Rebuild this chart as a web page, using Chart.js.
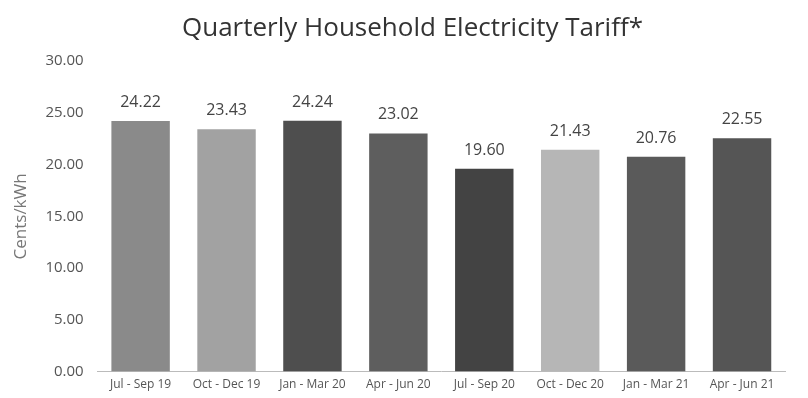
<!DOCTYPE html>
<html>
<head>
<meta charset="utf-8">
<script src="https://cdn.jsdelivr.net/npm/chart.js@4/dist/chart.umd.min.js"></script>
<style>
  html, body { margin: 0; padding: 0; background: #fff; }
  #wrap { width: 808px; height: 398px; }
</style>
</head>
<body>
<div id="wrap"><canvas id="tariffChart" width="808" height="398"></canvas></div>
<script>
// Chart data
const quarters = ['Jul - Sep 19', 'Oct - Dec 19', 'Jan - Mar 20', 'Apr - Jun 20',
                  'Jul - Sep 20', 'Oct - Dec 20', 'Jan - Mar 21', 'Apr - Jun 21'];
const tariff = [24.22, 23.43, 24.24, 23.02, 19.60, 21.43, 20.76, 22.55];
const barColors = ['#8a8a8a', '#a2a2a2', '#4e4e4e', '#5e5e5e', '#434343', '#b6b6b6', '#5a5a5a', '#555555'];

// draws the value above each bar
const valueLabels = {
  id: 'valueLabels',
  afterDatasetsDraw(chart) {
    const ctx = chart.ctx;
    const meta = chart.getDatasetMeta(0);
    ctx.save();
    ctx.font = '16px "Open Sans", sans-serif';
    ctx.fillStyle = '#444';
    ctx.textAlign = 'center';
    ctx.textBaseline = 'alphabetic';
    meta.data.forEach((bar, i) => {
      ctx.fillText(tariff[i].toFixed(2), bar.x, bar.y - 14);
    });
    ctx.restore();
  }
};

// the title in the original sits a bit right of centre
const titleNudge = {
  id: 'titleNudge',
  afterLayout(chart) {
    if (chart.titleBlock) {
      chart.titleBlock.left += 20;
      chart.titleBlock.right += 20;
    }
  }
};

const ctx = document.getElementById('tariffChart').getContext('2d');
const tariffChart = new Chart(ctx, {
  type: 'bar',
  data: {
    labels: quarters,
    datasets: [{
      label: 'Cents/kWh',
      data: tariff,
      backgroundColor: barColors,
      categoryPercentage: 0.68,
      barPercentage: 1.0
    }]
  },
  options: {
    responsive: false,
    animation: false,
    layout: { padding: { left: 0, right: 23, top: 8, bottom: 0 } },
    plugins: {
      legend: { display: false },
      tooltip: { enabled: false },
      title: {
        display: true,
        text: 'Quarterly Household Electricity Tariff*',
        color: '#333',
        font: { family: '"Open Sans", sans-serif', size: 26, weight: 'normal' },
        padding: { top: 5, bottom: 17 }
      }
    },
    scales: {
      x: {
        grid: { display: false, drawTicks: false },
        border: { display: true, color: '#bbb' },
        ticks: {
          color: '#555',
          font: { family: '"Open Sans", sans-serif', size: 12 },
          maxRotation: 0,
          autoSkip: false,
          padding: 6
        }
      },
      y: {
        min: 0,
        max: 30,
        grid: { display: false, drawTicks: false },
        border: { display: false },
        ticks: {
          stepSize: 5,
          color: '#555',
          font: { family: '"Open Sans", sans-serif', size: 15 },
          padding: 14,
          callback: v => v.toFixed(2)
        },
        title: {
          display: true,
          text: 'Cents/kWh',
          color: '#777',
          font: { family: '"Open Sans", sans-serif', size: 17 },
          padding: { top: 11, bottom: 0 }
        }
      }
    }
  },
  plugins: [valueLabels, titleNudge]
});
</script>
</body>
</html>
